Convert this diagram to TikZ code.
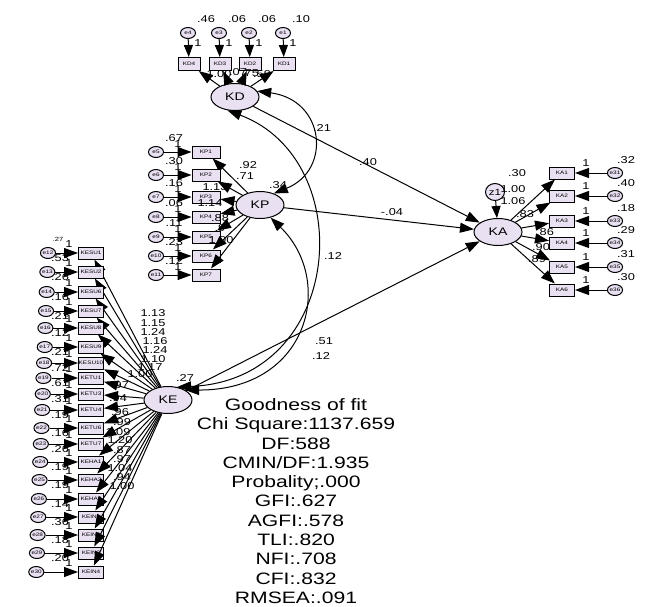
\documentclass[tikz,border=0pt]{standalone}
\usepackage{fontspec}
\setmainfont{Liberation Sans}[FakeStretch=1.28]
\usetikzlibrary{arrows.meta,shapes.geometric}
\definecolor{lav}{HTML}{E9E0F2}

\begin{document}
\begin{tikzpicture}[x=1pt,y=-1pt,
	every node/.style={inner sep=0pt},
	lat/.style={ellipse,draw,line width=1pt,fill=lav,minimum width=48pt,minimum height=27pt,font=\fontsize{11}{11}\selectfont},
	ind/.style={rectangle,draw,line width=1pt,fill=lav,minimum width=25pt,minimum height=12pt,font=\fontsize{5}{5}\selectfont},
	err/.style={ellipse,draw,line width=1pt,fill=lav,minimum width=15pt,minimum height=11pt,font=\fontsize{5}{5}\selectfont},
	num/.style={font=\fontsize{10}{10}\selectfont},
	pth/.style={-{Triangle[length=14pt,width=10pt]},line width=1pt},
	cov/.style={{Triangle[length=14pt,width=10pt]}-{Triangle[length=14pt,width=10pt]},line width=1pt}]
			\useasboundingbox (0,0) rectangle (664,606);
			% KD
			\node[lat] (KD) at (235,97) {KD};
			\foreach \i/\x/\v in {4/188/.46, 3/219/.06, 2/249/.06, 1/283/.10} {
				\node[err] (e\i) at (\x,33) {e\i};
				\node[ind,minimum width=22pt,minimum height=13pt] (KD\i) at (\x+1,64) {KD\i};
				\node[num] (v\i) at (\x+18,19) {\v};
				\node[num] (one\i) at (\x+10,43) {1};
				\draw[pth,-{Triangle[length=12pt,width=9pt]}] (e\i) -- (KD\i);
				\draw[pth] (KD) -- (KD\i);
			}
			\node[num] (kd1) at (219,74) {1.00};
			\node[num] (kd2) at (238,72) {.07};
			\node[num] (kd3) at (250,73) {.75};
			\node[num] (kd4) at (262,74) {.59};
			% KP
			\node[lat] (KP) at (260,205) {KP};
			\foreach \i/\y/\v [count=\n from 5] in {1/152/.67, 2/175/.30, 3/197/.16, 4/217/.06, 5/237/.11, 6/256/.23, 7/275/.12} {
				\node[err] (e\n) at (156,\y) {e\n};
				\node[ind,minimum width=28pt] (KP\i) at (206,\y) {KP\i};
				\node[num] (v\n) at (174,\y-14) {\v};
				\node[num] (one\n) at (178,\y-8) {1};
				\draw[pth] (e\n) -- (KP\i);
				\draw[pth] (KP) -- (KP\i);
			}
			\foreach \t/\x/\y [count=\k] in {.92/248/165, .71/245/176, 1.13/215/187, 1.14/210/203, .88/220/218, .9/220/228, 1.00/221/240}
				\node[num] (kp\k) at (\x,\y) {\t};
			% KE
			\node[lat] (KE) at (168,400) {KE};
			\foreach \lab/\y/\v [count=\n from 12] in {KESU1/253/.53, KESU2/272/.26, KESU6/292/.16, KESU7/311/.21, KESU8/328/.12, KESU9/347/.21, KESU10/363/.72, KETU1/378/.61, KETU3/394/.31, KETU4/410/.19, KETU6/428/.16, KETU7/444/.26, KEHA1/462/.19, KEHA2/480/.19, KEHA3/499/.14, KEIN1/517/.36, KEIN2/535/.18, KEIN3/553/.20, KEIN4/572/{}} {
				\node[err] (e\n) at ({48-(\n-12)*0.65},\y) {e\n};
				\node[ind] (\lab) at (91,\y) {\lab};
				\node[num] (v\n) at (60,\y+5) {\v};
				\node[num] (one\n) at (69,\y-9) {1};
				\draw[pth] (e\n) -- (\lab);
				\draw[pth] (KE) -- (\lab);
			}
			\node[font=\fontsize{6}{6}\selectfont] (stray) at (58,239) {.27};
			\foreach \t/\x/\y [count=\k] in {1.13/153/313, 1.15/153/323, 1.24/153/332, 1.16/155/341, 1.24/155/350, 1.10/153/359, 1.17/150/367, 1.00/140/374, .97/120/385, .94/118/398, .96/120/412, .99/122/422, 1.09/118/432, 1.20/120/440, .87/122/450, .97/122/459, 1.04/120/468, .94/122/477, 1.00/122/486}
				\node[num] (ke\k) at (\x,\y) {\t};
			% KA
			\node[lat] (KA) at (498,232) {KA};
			\node[err,minimum width=19pt,minimum height=17pt,font=\fontsize{9}{9}\selectfont] (z1) at (495,192) {z1};
			\draw[pth,-{Triangle[length=12pt,width=9pt]}] (z1) -- (KA);
			\foreach \i/\y/\v [count=\n from 31] in {1/173/.32, 2/196/.40, 3/221/.18, 4/243/.29, 5/267/.31, 6/290/.30} {
				\node[ind] (KA\i) at (562,\y) {KA\i};
				\node[err] (e\n) at (615,\y) {e\n};
				\node[num] (v\n) at (626,\y-13) {\v};
				\node[num] (one\n) at (586,\y-10) {1};
				\draw[pth] (e\n) -- (KA\i);
				\draw[pth] (KA) -- (KA\i);
			}
			\foreach \t/\x/\y [count=\k] in {.30/517/173, 1.00/513/189, 1.06/513/201, .83/525/214, .86/545/232, .90/541/247, .89/537/259}
				\node[num] (ka\k) at (\x,\y) {\t};
			% structural paths and covariances
			\draw[pth] (KD) -- (KA);
			\draw[pth] (KP) -- (KA);
			\draw[pth] (KE) -- (KA);
			\draw[cov] (KD.15) .. controls (325,100) and (332,170) .. (KP.40);
			\draw[cov] (KD.-120) .. controls (360,160) and (345,380) .. (KE.55);
			\draw[cov] (KP.-50) .. controls (335,280) and (310,390) .. (KE.30);
			\node[num] (c1) at (322,128) {.21};
			\node[num] (c2) at (333,256) {.12};
			\node[num] (c3) at (321,356) {.12};
			\node[num] (b3) at (324,341) {.51};
			\node[num] (b1) at (368,162) {.40};
			\node[num] (b2) at (392,212) {-.04};
			\node[num] (vkp) at (278,185) {.34};
			\node[num] (vke) at (185,378) {.27};
			% fit
			\node[font=\fontsize{16.5}{19.3}\selectfont,align=center] (gof) at (296,501) {Goodness of fit\\Chi Square:1137.659\\DF:588\\CMIN/DF:1.935\\Probality;.000\\GFI:.627\\AGFI:.578\\TLI:.820\\NFI:.708\\CFI:.832\\RMSEA:.091};
		\end{tikzpicture}
\end{document}
